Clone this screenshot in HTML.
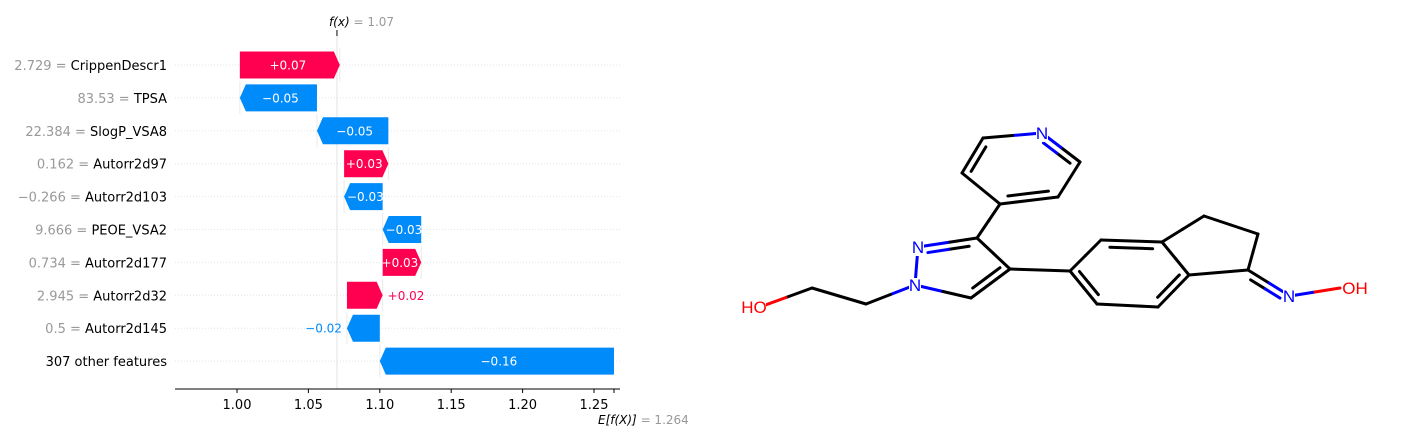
<!DOCTYPE html>
<html><head><meta charset="utf-8"><style>
html,body{margin:0;padding:0;background:#fff;}
svg{display:block;font-family:"DejaVu Sans","Liberation Sans",sans-serif;}
</style></head><body>
<svg id="chart" width="1406" height="441" viewBox="0 0 1406 441" xmlns="http://www.w3.org/2000/svg">
<g id="plot"></g>
<g id="mol"></g>
</svg>
<script>
const featureValues = ["2.729","83.53","22.384","0.162","\u22120.266","9.666","0.734","2.945","0.5",""];
const featureNames = ["CrippenDescr1","TPSA","SlogP_VSA8","Autorr2d97","Autorr2d103","PEOE_VSA2","Autorr2d177","Autorr2d32","Autorr2d145","307 other features"];
const shapValues = [0.070,-0.054,-0.050,0.031,-0.027,-0.027,0.027,0.025,-0.023,-0.164];
const shapLabels = ["+0.07","\u22120.05","\u22120.05","+0.03","\u22120.03","\u22120.03","+0.03","+0.02","\u22120.02","\u22120.16"];
const baseValue = 1.264;
const fxValue = 1.07;
const xTicks = [1.00,1.05,1.10,1.15,1.20,1.25];

const NS="http://www.w3.org/2000/svg";
const plot=document.getElementById('plot');
const xs=v=>237+(v-1)*1428;
const rowY=i=>65+i*32.9;
function mk(tag,attrs,parent){const e=document.createElementNS(NS,tag);for(const k in attrs)e.setAttribute(k,attrs[k]);(parent||plot).appendChild(e);return e;}

for(let i=0;i<featureNames.length;i++){
  const g=mk('line',{x1:175,x2:620,y1:rowY(i),y2:rowY(i),stroke:'#e4e4e4','stroke-dasharray':'1,2','stroke-width':1});
  
  
}
const fl=mk('line',{x1:xs(fxValue),x2:xs(fxValue),y1:36,y2:389,stroke:'#e2e2e2','stroke-width':1});



let cum=baseValue;
const starts=[],ends=[];
for(let i=shapValues.length-1;i>=0;i--){starts[i]=cum;cum+=shapValues[i];ends[i]=cum;}
for(let i=0;i<shapValues.length;i++){
  const y=rowY(i),h=27,a=starts[i],b=ends[i],v=shapValues[i];
  const pos=v>0,col=pos?'#ff0051':'#008bfb';
  const x0=xs(Math.min(a,b)),x1=xs(Math.max(a,b));
  const head=Math.min(6,x1-x0);
  let d;
  if(pos) d=`M${x0},${y-h/2}L${x1-head},${y-h/2}L${x1},${y}L${x1-head},${y+h/2}L${x0},${y+h/2}Z`;
  else d=`M${x1},${y-h/2}L${x0+head},${y-h/2}L${x0},${y}L${x0+head},${y+h/2}L${x1},${y+h/2}Z`;
  const c=mk('line',{x1:xs(ends[i]),x2:xs(ends[i]),y1:y-h/2-3,y2:y+h/2+3,stroke:'#eaeaea','stroke-width':1});
  
  
  const bar=mk('path',{d:d,fill:col});
  
  
  const w=x1-x0;
  let t;
  if(w>38){
    t=mk('text',{x:(x0+x1)/2+(pos?-2:2),y:y+4.5,'text-anchor':'middle','font-size':12,fill:'#fff'});
  } else if(pos){
    t=mk('text',{x:x1+5,y:y+4.5,'text-anchor':'start','font-size':12,fill:col});
  } else {
    t=mk('text',{x:x0-5,y:y+4.5,'text-anchor':'end','font-size':12,fill:col});
  }
  t.textContent=shapLabels[i];
  
  
  const yl=mk('text',{x:167,y:y+5,'text-anchor':'end','font-size':13});
  
  
  if(featureValues[i]){
    const s1=document.createElementNS(NS,'tspan');s1.setAttribute('fill','#999');s1.textContent=featureValues[i]+' = ';yl.appendChild(s1);
  }
  const s2=document.createElementNS(NS,'tspan');s2.setAttribute('fill','#000');s2.textContent=featureNames[i];yl.appendChild(s2);
}
const ax=mk('line',{x1:175,x2:620,y1:389,y2:389,stroke:'#000','stroke-width':1});


xTicks.forEach(v=>{
  const tk=mk('line',{x1:xs(v),x2:xs(v),y1:389,y2:393,stroke:'#000'});
  
  
  const tl=mk('text',{x:xs(v),y:409,'text-anchor':'middle','font-size':13,fill:'#000'});
  tl.textContent=v.toFixed(2);
  
  
});
const et=mk('line',{x1:xs(baseValue),x2:xs(baseValue),y1:389,y2:393,stroke:'#000'});


const el=mk('text',{x:xs(baseValue)-16,y:424,'font-size':12});


el.innerHTML='<tspan font-style="italic" fill="#000">E[f(X)]</tspan><tspan fill="#999"> = '+baseValue+'</tspan>';
const ft=mk('line',{x1:xs(fxValue),x2:xs(fxValue),y1:30,y2:36,stroke:'#000'});


const fxl=mk('text',{x:xs(fxValue)-8,y:26,'font-size':12});


fxl.innerHTML='<tspan font-style="italic" fill="#000">f(x)</tspan><tspan fill="#999"> = '+fxValue.toFixed(2)+'</tspan>';

const mol=document.getElementById('mol');
const A={pN:[1042,133],p2:[983,138],p3:[962,173],p4:[1000,204],p5:[1058,197],p6:[1080,162],
C3:[977,238],N2:[918,247],N1:[915,285],C5:[971,298],C4:[1010,269],
ch1:[866,304],ch2:[812,288],O1:[760,307],
b1:[1070,271],b2:[1101,240],b3:[1162,242],b4:[1189,275],b5:[1158,307],b6:[1097,304],
f1:[1204,216],f2:[1258,234],f3:[1248,270],ON:[1290,296],O2:[1340,288]};
const el2c={pN:'#00f',N2:'#00f',N1:'#00f',ON:'#00f',O1:'#f00',O2:'#f00'};
const bonds=[['pN','p2',1],['p2','p3',2],['p3','p4',1],['p4','p5',2],['p5','p6',1],['p6','pN',2],['p4','C3',1],
['C3','N2',2],['N2','N1',1],['N1','C5',1],['C5','C4',2],['C4','C3',1],['N1','ch1',1],['ch1','ch2',1],['ch2','O1',1],
['C4','b1',1],['b1','b2',1],['b2','b3',2],['b3','b4',1],['b4','b5',2],['b5','b6',1],['b6','b1',2],
['b3','f1',1],['f1','f2',1],['f2','f3',1],['f3','b4',1],['f3','ON',2],['ON','O2',1]];
function seg(p,q,c){const l=document.createElementNS(NS,'line');l.setAttribute('x1',p[0]);l.setAttribute('y1',p[1]);l.setAttribute('x2',q[0]);l.setAttribute('y2',q[1]);l.setAttribute('stroke',c);l.setAttribute('stroke-width',3);l.setAttribute('stroke-linecap','round');


mol.appendChild(l);}
function bond(a,b,inner){let p=A[a],q=A[b];
  if(inner){const dx=q[0]-p[0],dy=q[1]-p[1],L=Math.hypot(dx,dy);const nx=-dy/L*7,ny=dx/L*7;
   p=[p[0]+nx*inner+dx*0.15,p[1]+ny*inner+dy*0.15];q=[q[0]+nx*inner-dx*0.15,q[1]+ny*inner-dy*0.15];}
  const m=[(p[0]+q[0])/2,(p[1]+q[1])/2];
  seg(p,m,el2c[a]||'#000');seg(m,q,el2c[b]||'#000');}
const ringC={py:[1021,168],pz:[958,267],bz:[1130,273]};
bonds.forEach(([a,b,o])=>{
  bond(a,b,0);
  if(o===2){
    let c=null;
    if(a[0]==='p'&&b[0]==='p')c=ringC.py;else if(['C3','N2','C5','C4'].includes(a))c=ringC.pz;else if(a[0]==='b')c=ringC.bz;
    let side=1;
    const p=A[a],q=A[b],dx=q[0]-p[0],dy=q[1]-p[1];
    if(c){const m=[(p[0]+q[0])/2,(p[1]+q[1])/2];side=((-dy)*(c[0]-m[0])+dx*(c[1]-m[1]))>0?1:-1;}
    bond(a,b,side);
  }
});
function lab(x,y,t,c,nm){const e=document.createElementNS(NS,'text');e.setAttribute('x',x);e.setAttribute('y',y);e.setAttribute('fill',c);e.setAttribute('font-size',17);e.setAttribute('text-anchor','middle');
e.setAttribute('font-family','"Liberation Sans",sans-serif');
e.textContent=t;


const r=document.createElementNS(NS,'rect');r.setAttribute('x',x-(t.length*6));r.setAttribute('y',y-13);r.setAttribute('width',t.length*12);r.setAttribute('height',16);r.setAttribute('fill','#fff');


mol.appendChild(r);mol.appendChild(e);}
lab(1042,139,'N','#00f','atom-n-pyridine');
lab(918,253,'N','#00f','atom-n2');
lab(915,291,'N','#00f','atom-n1');
lab(1289,302,'N','#00f','atom-n-oxime');
lab(754,313,'HO','#f00','atom-ho');
lab(1355,294,'OH','#f00','atom-oh');
</script>
</body></html>
